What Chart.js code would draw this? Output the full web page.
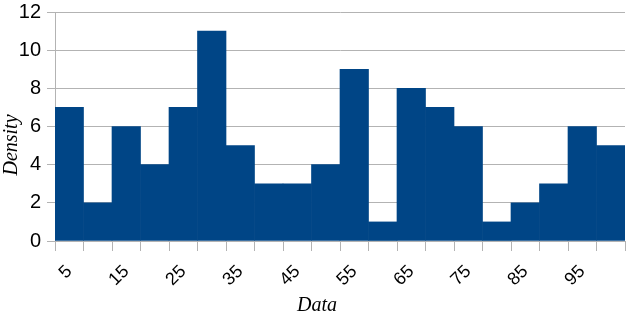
<!DOCTYPE html>
<html>
<head>
<meta charset="utf-8">
<script src="https://cdn.jsdelivr.net/npm/chart.js@4/dist/chart.umd.min.js"></script>
<style>
  html, body { margin: 0; padding: 0; background: #fff; }
  #wrap { width: 627px; height: 324px; }
</style>
</head>
<body>
<div id="wrap"><canvas id="hist-chart" width="627" height="324"></canvas></div>
<script>
// bin centres and bar heights
const categories = ['5', '10', '15', '20', '25', '30', '35', '40', '45', '50',
  '55', '60', '65', '70', '75', '80', '85', '90', '95', '100'];
const densityValues = [7, 2, 6, 4, 7, 11, 5, 3, 3, 4, 9, 1, 8, 7, 6, 1, 2, 3, 6, 5];
const yTicks = [0, 2, 4, 6, 8, 10, 12];

// axis titles drawn by hand, LibreOffice puts them a bit off-centre
const titlePlugin = {
  id: 'axisTitles',
  afterDraw(chart) {
    const c = chart.ctx;
    c.save();
    c.fillStyle = '#000';
    c.font = 'italic 20px "Liberation Serif", serif';
    c.textAlign = 'center';
    c.textBaseline = 'middle';
    c.fillText('Data', 317, 306);
    c.translate(12, 145);
    c.rotate(-Math.PI / 2);
    c.fillText('Density', 0, 0);
    c.restore();
  }
};

const ctx = document.getElementById('hist-chart');
new Chart(ctx, {
  type: 'bar',
  data: {
    labels: categories,
    datasets: [{
      label: 'Density',
      data: densityValues,
      backgroundColor: '#004586',
      borderWidth: 0,
      categoryPercentage: 1,
      barPercentage: 1
    }]
  },
  options: {
    responsive: false,
    animation: false,
    layout: { padding: { top: 0, right: 2, left: 0, bottom: 0 } },
    plugins: {
      legend: { display: false },
      tooltip: { enabled: false }
    },
    scales: {
      x: {
        offset: true,
        grid: {
          offset: true,
          drawOnChartArea: false,
          drawTicks: true,
          tickLength: 10,
          color: '#b3b3b3'
        },
        border: { color: '#b3b3b3' },
        ticks: {
          autoSkip: false,
          minRotation: 45,
          maxRotation: 45,
          padding: 10,
          color: '#000',
          font: { family: '"Liberation Sans", Arial, sans-serif', size: 18 },
          callback: function (val, i) { return i % 2 === 0 ? categories[i] : ''; }
        },
        afterFit: function (scale) {
          scale.height = 83;
          scale.paddingLeft = 0;
          scale.paddingRight = 0;
        }
      },
      y: {
        min: 0,
        max: 12,
        afterBuildTicks: function (scale) { scale.ticks = yTicks.map(v => ({ value: v })); },
        grid: { color: '#b3b3b3', tickLength: 8 },
        border: { color: '#b3b3b3' },
        ticks: {
          padding: 6,
          color: '#000',
          font: { family: '"Liberation Sans", Arial, sans-serif', size: 20 }
        },
        afterFit: function (scale) {
          scale.width = 55;
          scale.paddingTop = 12;
        }
      }
    }
  },
  plugins: [titlePlugin]
});
</script>
</body>
</html>
